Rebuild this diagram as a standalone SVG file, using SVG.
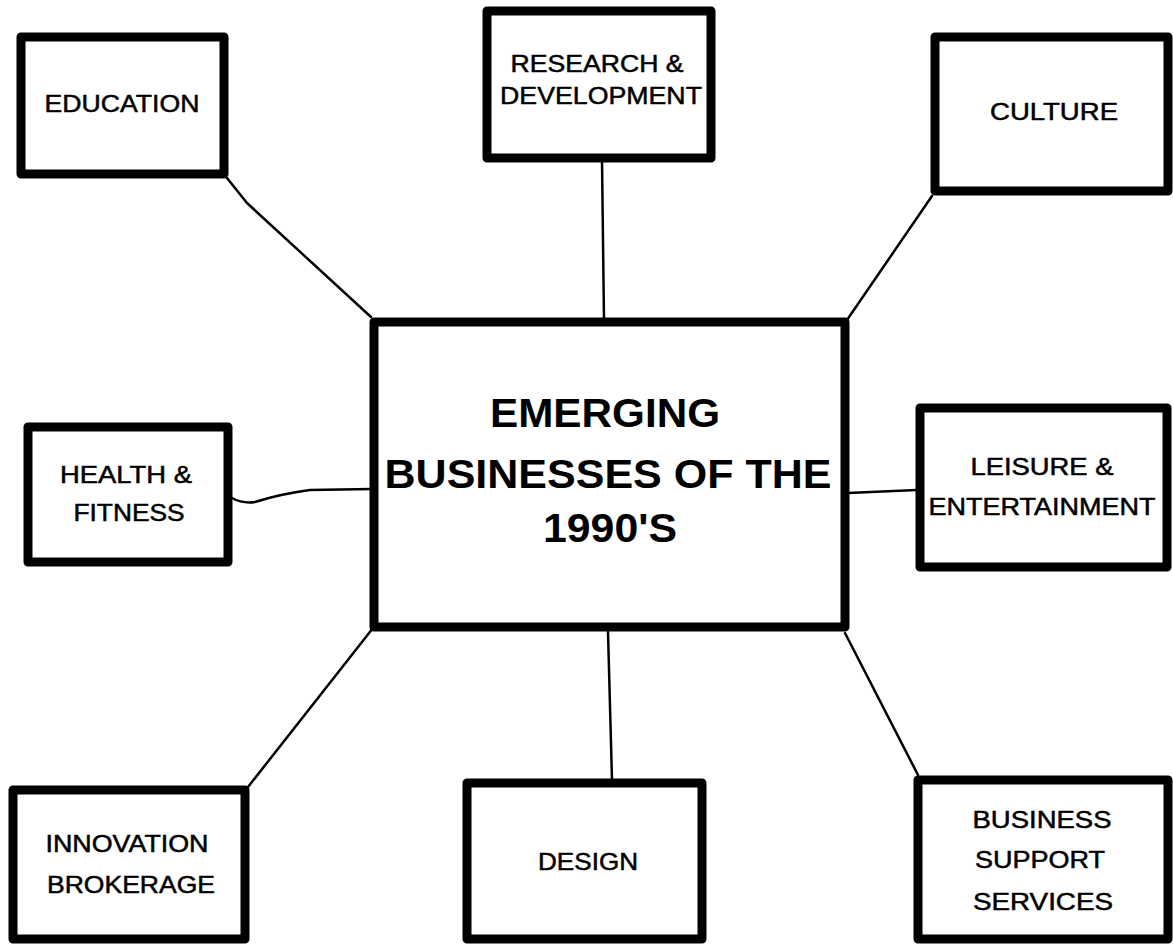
<svg xmlns="http://www.w3.org/2000/svg" width="1173" height="945" viewBox="0 0 1173 945">
<style>
.box{fill:#fff;stroke:#000;stroke-width:9;stroke-linejoin:round}
.lbl{font-family:"Liberation Sans",Arial,sans-serif;font-size:24px;fill:#000;stroke:#000;stroke-width:0.5;text-anchor:middle}
.big{font-family:"Liberation Sans",Arial,sans-serif;font-size:40px;font-weight:bold;fill:#000;text-anchor:middle}
.con{fill:none;stroke:#000;stroke-width:2.5;stroke-linejoin:round;stroke-linecap:round}
</style>
<rect width="1173" height="945" fill="#fff"/>
<g id="connectors">
<path class="con" d="M227,178 L247,203 L371,317"/>
<path class="con" d="M602,160 L604,320"/>
<path class="con" d="M932,196 L847,320"/>
<path class="con" d="M232,498 Q243,504 255,502 Q280,494 310,490 L372,489"/>
<path class="con" d="M848,493 L917,490"/>
<path class="con" d="M248,787 L373,628"/>
<path class="con" d="M608,632 L612,780"/>
<path class="con" d="M845,633 L918,775"/>
</g>
<g id="center">
<rect class="box" x="374" y="322" width="471" height="305"/>
<text class="big" x="605" y="427" textLength="230" lengthAdjust="spacingAndGlyphs">EMERGING</text>
<text class="big" x="608" y="488" textLength="447" lengthAdjust="spacingAndGlyphs">BUSINESSES OF THE</text>
<text class="big" x="610" y="542" textLength="134" lengthAdjust="spacingAndGlyphs">1990'S</text>
</g>
<g id="education">
<rect class="box" x="21" y="37" width="203" height="137"/>
<text class="lbl" x="122" y="112" textLength="155" lengthAdjust="spacingAndGlyphs">EDUCATION</text>
</g>
<g id="research">
<rect class="box" x="487" y="11" width="224" height="147"/>
<text class="lbl" x="597" y="72" textLength="173" lengthAdjust="spacingAndGlyphs">RESEARCH &amp;</text>
<text class="lbl" x="601" y="104" textLength="202" lengthAdjust="spacingAndGlyphs">DEVELOPMENT</text>
</g>
<g id="culture">
<rect class="box" x="935" y="37" width="233" height="154"/>
<text class="lbl" x="1054" y="120" textLength="128" lengthAdjust="spacingAndGlyphs">CULTURE</text>
</g>
<g id="health">
<rect class="box" x="28" y="427" width="200" height="135"/>
<text class="lbl" x="126" y="483" textLength="132" lengthAdjust="spacingAndGlyphs">HEALTH &amp;</text>
<text class="lbl" x="129" y="521" textLength="111" lengthAdjust="spacingAndGlyphs">FITNESS</text>
</g>
<g id="leisure">
<rect class="box" x="920" y="408" width="247" height="159"/>
<text class="lbl" x="1042" y="475" textLength="143" lengthAdjust="spacingAndGlyphs">LEISURE &amp;</text>
<text class="lbl" x="1042" y="515" textLength="227" lengthAdjust="spacingAndGlyphs">ENTERTAINMENT</text>
</g>
<g id="innovation">
<rect class="box" x="13" y="790" width="232" height="149"/>
<text class="lbl" x="127" y="852" textLength="163" lengthAdjust="spacingAndGlyphs">INNOVATION</text>
<text class="lbl" x="131" y="893" textLength="168" lengthAdjust="spacingAndGlyphs">BROKERAGE</text>
</g>
<g id="design">
<rect class="box" x="467" y="783" width="235" height="156"/>
<text class="lbl" x="588" y="870" textLength="100" lengthAdjust="spacingAndGlyphs">DESIGN</text>
</g>
<g id="business">
<rect class="box" x="918" y="780" width="250" height="159"/>
<text class="lbl" x="1042" y="828" textLength="139" lengthAdjust="spacingAndGlyphs">BUSINESS</text>
<text class="lbl" x="1040" y="868" textLength="130" lengthAdjust="spacingAndGlyphs">SUPPORT</text>
<text class="lbl" x="1043" y="910" textLength="140" lengthAdjust="spacingAndGlyphs">SERVICES</text>
</g>
</svg>
